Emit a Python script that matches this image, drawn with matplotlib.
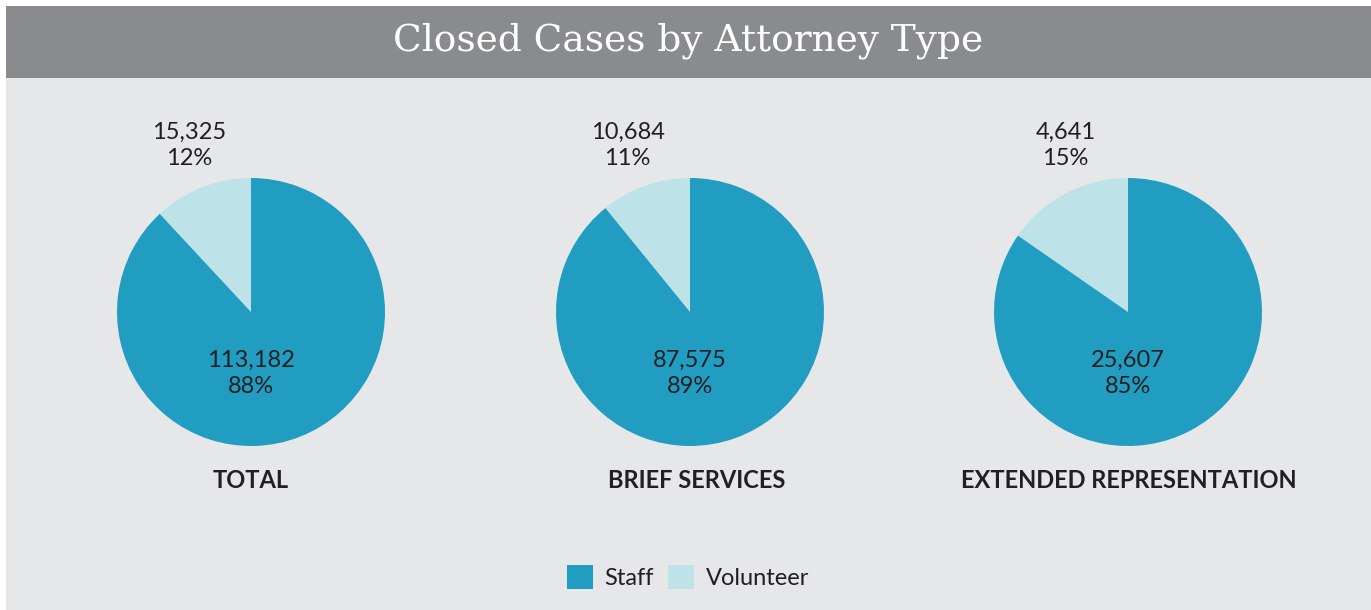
import matplotlib
matplotlib.use("Agg")
import matplotlib.pyplot as plt
from matplotlib.patches import Rectangle, Patch

# ---- data ---------------------------------------------------------------------
categories = ["TOTAL", "BRIEF SERVICES", "EXTENDED REPRESENTATION"]
series = ["Staff", "Volunteer"]
staff = [113182, 87575, 25607]
volunteer = [15325, 10684, 4641]
staff_pct = [88, 89, 85]
volunteer_pct = [12, 11, 15]

STAFF_C = "#229dc2"
VOL_C = "#bde3e8"
BG = "#e6e7e9"
HEAD = "#8a8b8f"
TXT = "#231f20"

W, H = 1371, 610
fig = plt.figure(figsize=(W / 100, H / 100), dpi=100)
fig.patch.set_facecolor("white")


def px(x, y):
    # pixel coords (top-left origin) -> figure fraction
    return x / W, 1 - y / H


# background axes holds panel + header band, sits under everything
bg = fig.add_axes([0, 0, 1, 1], zorder=-1)
bg.set_xlim(0, W)
bg.set_ylim(H, 0)
bg.axis("off")
bg.add_patch(Rectangle((6, 6), W - 6, H - 6, facecolor=BG, edgecolor="none"))
bg.add_patch(Rectangle((6, 6), W - 6, 72, facecolor=HEAD, edgecolor="none"))
bg.text(688, 41, "Closed Cases by Attorney Type", ha="center", va="center",
        color="white", fontsize=27, family="DejaVu Serif")

# ---- pies -----------------------------------------------------------------------
R = 134          # pie radius in px
CY = 312
centers = [251, 690, 1128]
label_x = [251, 697, 1129]
S = 1.6          # axes half-extent in radius units

for i, cx in enumerate(centers):
    half = R * S
    l, b = px(cx - half, CY + half)
    ax = fig.add_axes([l, b, 2 * half / W, 2 * half / H], zorder=1)
    ax.pie([volunteer[i], staff[i]], colors=[VOL_C, STAFF_C], startangle=90,
           counterclock=True, radius=1, wedgeprops=dict(linewidth=0))
    ax.set_xlim(-S, S)
    ax.set_ylim(-S, S)
    ax.set_aspect("equal")
    ax.axis("off")
    ax.text(-0.465, 1.245, f"{volunteer[i]:,}\n{volunteer_pct[i]}%", ha="center", va="center",
            fontsize=17, family="Lato", color=TXT, linespacing=1.3)
    ax.text(0, -0.46, f"{staff[i]:,}\n{staff_pct[i]}%", ha="center", va="center",
            fontsize=17, family="Lato", color=TXT, linespacing=1.3)
    bg.text(label_x[i], 480, categories[i], ha="center", va="center", fontsize=17,
            family="Lato", weight="bold", color=TXT)

handles = [Patch(facecolor=STAFF_C, edgecolor="none"), Patch(facecolor=VOL_C, edgecolor="none")]
fig.legend(handles, series, loc="center", bbox_to_anchor=px(688, 577), ncol=2, frameon=False,
           prop=dict(family="Lato", size=17), handlelength=1.1, handleheight=1.2,
           handletextpad=0.5, columnspacing=0.6, labelcolor=TXT)

fig.savefig("out.png", dpi=100, facecolor=fig.get_facecolor())
